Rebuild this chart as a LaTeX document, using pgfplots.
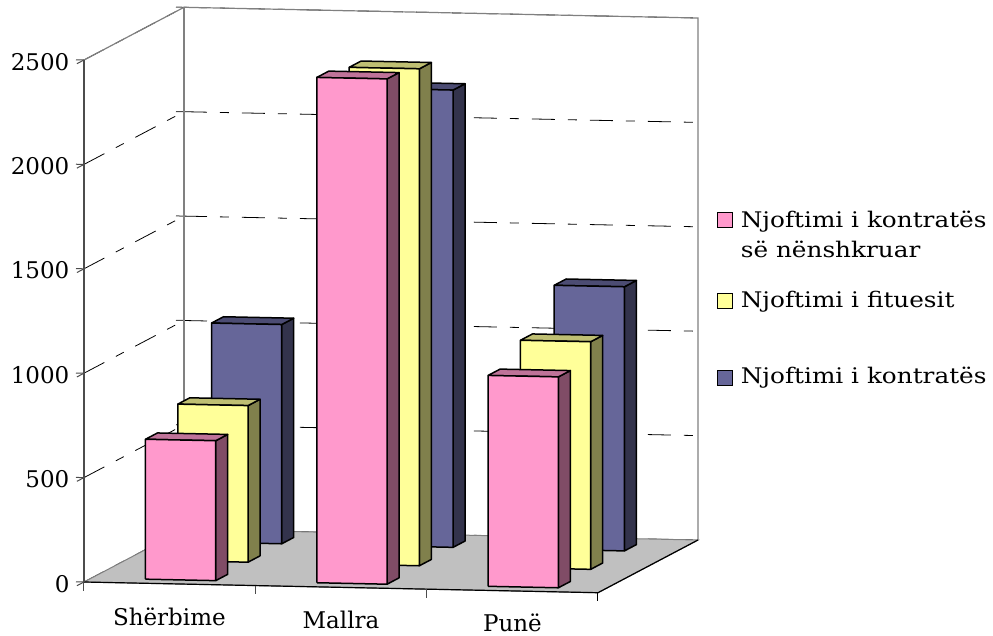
\documentclass[border=0pt]{standalone}
\usepackage{fontspec}
\setmainfont{DejaVu Serif}
\newfontfamily\legfont[FakeStretch=1.15]{DejaVu Serif}
\usepackage{pgfplots}
\pgfplotsset{compat=1.18}
\definecolor{roze}{HTML}{FF99CC}
\definecolor{verdhe}{HTML}{FFFF99}
\definecolor{blu}{HTML}{666699}
\definecolor{dysheme}{HTML}{C0C0C0}
\definecolor{mure}{HTML}{808080}
\newcommand\txt{\fontsize{23}{30}\selectfont}
\newcommand\legtxt{\legfont\fontsize{21.5}{30}\selectfont}

% one bar: category position, row start, value, colour, sideways nudge of the row
\newcommand\kolone[5]{%
  \pgfmathsetmacro\xa{#1+0.315+#5}\pgfmathsetmacro\xb{#1+0.725+#5}%
  \pgfmathsetmacro\ya{#2}\pgfmathsetmacro\yb{#2+0.12}%
  \addplot3[forget plot,no marks,fill=#4!50!black,draw=black,line width=1.5pt,line join=round]
    coordinates {(\xb,\ya,0) (\xb,\yb,0) (\xb,\yb,#3) (\xb,\ya,#3) (\xb,\ya,0)};
  \addplot3[forget plot,no marks,fill=#4!75!black,draw=black,line width=1.5pt,line join=round]
    coordinates {(\xa,\ya,#3) (\xb,\ya,#3) (\xb,\yb,#3) (\xa,\yb,#3) (\xa,\ya,#3)};
  \addplot3[forget plot,no marks,fill=#4,draw=black,line width=1.5pt,line join=round]
    coordinates {(\xa,\ya,0) (\xb,\ya,0) (\xb,\ya,#3) (\xa,\ya,#3) (\xa,\ya,0)};
}

\begin{document}
\begin{tikzpicture}[x=1pt,y=1pt]
  \useasboundingbox (-84,-53) rectangle (909,582);
  \begin{axis}[
    at={(0pt,0pt)}, anchor=origin,
    x={(171.33pt,-3.57pt)}, y={(100pt,52.7pt)}, z={(0pt,0.2088pt)},
    xmin=0, xmax=3, ymin=0, ymax=1, zmin=0, zmax=2500,
    axis line style={draw=none},
    clip=false,
    ytick=\empty,
    xtick={0.5,1.5,2.5},
    xticklabels={Shërbime,Mallra,Punë},
    x tick style={draw=none},
    ztick={0,500,1000,1500,2000,2500},
    z tick style={draw=black!70,line width=1pt},
    major tick length=8pt,
    tick align=outside,
    ztick pos=left,
    zmajorgrids,
    major grid style={draw=black,line width=0.8pt,dash pattern=on 23pt off 13pt on 9pt off 13pt},
    /pgf/number format/assume math mode=true,
    /pgf/number format/1000 sep={},
    ticklabel style={font=\txt},
    xticklabel style={xshift=15pt,yshift=-15.5pt},
    zticklabel style={anchor=east,xshift=-4pt,yshift=2pt},
    legend style={draw=none,fill=none,font=\legtxt,at={(1.026,0.66)},anchor=north west,row sep=0pt},
    legend cell align=left,
    legend image code/.code={\draw[#1,draw=black,line width=1pt] (0pt,-1pt) rectangle (15pt,14pt);
      \path (21pt,0pt);},
  ]
    % muret dhe dyshemeja
    \addplot3[forget plot,no marks,draw=mure,line width=1.2pt]
      coordinates {(0,0,2500) (0,1,2500) (3,1,2500) (3,1,0)};
    \addplot3[forget plot,no marks,draw=mure,line width=1.2pt]
      coordinates {(0,1,2500) (0,1,0)};
    \addplot3[forget plot,no marks,fill=dysheme,draw=mure,line width=1pt]
      coordinates {(0,0,0) (3,0,0) (3,1,0) (0,1,0) (0,0,0)};
    \addplot3[forget plot,no marks,draw=black,line width=1.2pt]
      coordinates {(0,0,0) (3,0,0) (3,1,0)};
    \addplot3[forget plot,no marks,draw=black!70,line width=1.2pt]
      coordinates {(0,0,0) (0,0,2500)};
    % ticks on the category axis
    \addplot3[forget plot,no marks,draw=black!70,line width=1pt] coordinates {(0,0,0) (0,0,-42)};
    \addplot3[forget plot,no marks,draw=black!70,line width=1pt] coordinates {(1,0,0) (1,0,-42)};
    \addplot3[forget plot,no marks,draw=black!70,line width=1pt] coordinates {(2,0,0) (2,0,-42)};
    \addplot3[forget plot,no marks,draw=black,line width=1pt] coordinates {(3,0,0) (3,0,-42)};

    % Njoftimi i kontratës
    \kolone{0}{0.773}{1050}{blu}{-0.022}
    \kolone{1}{0.773}{2190}{blu}{-0.022}
    \kolone{2}{0.773}{1265}{blu}{-0.022}
    % Njoftimi i fituesit
    \kolone{0}{0.424}{750}{verdhe}{-0.015}
    \kolone{1}{0.424}{2380}{verdhe}{-0.015}
    \kolone{2}{0.424}{1090}{verdhe}{-0.015}
    % Njoftimi i kontratës së nënshkruar
    \kolone{0}{0.075}{670}{roze}{0}
    \kolone{1}{0.075}{2420}{roze}{0}
    \kolone{2}{0.075}{1010}{roze}{0}

    \addlegendimage{fill=roze,yshift=22pt}
    \addlegendentry[text depth=60pt]{\parbox[t]{250pt}{\raggedright Njoftimi i kontratës\\së nënshkruar}}
    \addlegendimage{fill=verdhe,yshift=20pt}
    \addlegendentry[text depth=56pt]{Njoftimi i fituesit}
    \addlegendimage{fill=blu,yshift=-8pt}
    \addlegendentry{Njoftimi i kontratës}
  \end{axis}
\end{tikzpicture}
\end{document}
